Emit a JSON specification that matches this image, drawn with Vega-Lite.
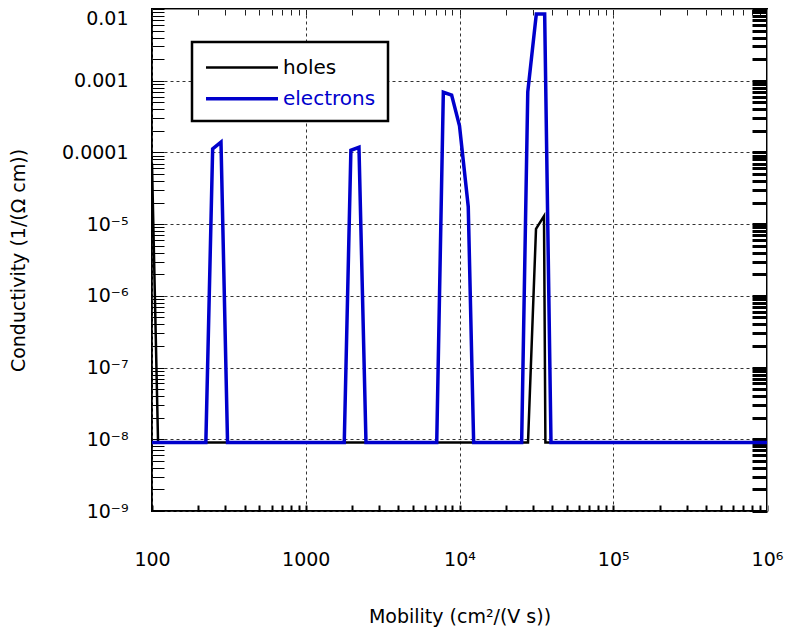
{
  "$schema": "https://vega.github.io/schema/vega-lite/v6.json",
  "width": 615,
  "height": 502,
  "autosize": {"type": "none"},
  "padding": {"left": 152, "top": 9, "right": 19, "bottom": 126},
  "background": "white",
  "config": {
    "view": {"stroke": "black", "strokeWidth": 2},
    "font": "DejaVu Sans"
  },
  "data": {
    "values": [
      {"series": "holes", "mu": 100, "sigma": 7e-5},
      {"series": "holes", "mu": 109.5, "sigma": 9e-9},
      {"series": "holes", "mu": 27900, "sigma": 9e-9},
      {"series": "holes", "mu": 31450, "sigma": 8.6e-6},
      {"series": "holes", "mu": 35450, "sigma": 1.3e-5},
      {"series": "holes", "mu": 36200, "sigma": 9e-9},
      {"series": "holes", "mu": 1000000, "sigma": 9e-9},
      {"series": "electrons", "mu": 100, "sigma": 9e-9},
      {"series": "electrons", "mu": 224, "sigma": 9e-9},
      {"series": "electrons", "mu": 248, "sigma": 1.12e-4},
      {"series": "electrons", "mu": 281, "sigma": 1.39e-4},
      {"series": "electrons", "mu": 310, "sigma": 9e-9},
      {"series": "electrons", "mu": 1780, "sigma": 9e-9},
      {"series": "electrons", "mu": 1966, "sigma": 1.07e-4},
      {"series": "electrons", "mu": 2219, "sigma": 1.18e-4},
      {"series": "electrons", "mu": 2465, "sigma": 9e-9},
      {"series": "electrons", "mu": 7110, "sigma": 9e-9},
      {"series": "electrons", "mu": 7850, "sigma": 6.9e-4},
      {"series": "electrons", "mu": 8890, "sigma": 6.3e-4},
      {"series": "electrons", "mu": 10000, "sigma": 2.35e-4},
      {"series": "electrons", "mu": 11400, "sigma": 1.75e-5},
      {"series": "electrons", "mu": 12360, "sigma": 9e-9},
      {"series": "electrons", "mu": 25360, "sigma": 9e-9},
      {"series": "electrons", "mu": 27800, "sigma": 7.0e-4},
      {"series": "electrons", "mu": 31600, "sigma": 8.55e-3},
      {"series": "electrons", "mu": 35800, "sigma": 8.55e-3},
      {"series": "electrons", "mu": 39360, "sigma": 9e-9},
      {"series": "electrons", "mu": 1000000, "sigma": 9e-9}
    ]
  },
  "resolve": {"axis": {"x": "independent", "y": "independent"}},
  "layer": [
    {
      "mark": {"type": "line", "clip": true, "strokeJoin": "miter"},
      "encoding": {
        "x": {
          "field": "mu", "type": "quantitative",
          "scale": {"type": "log", "domain": [100, 1000000], "nice": false},
          "axis": {
            "orient": "bottom",
            "values": [100,200,300,400,500,600,700,800,900,1000,2000,3000,4000,5000,6000,7000,8000,9000,10000,20000,30000,40000,50000,60000,70000,80000,90000,100000,200000,300000,400000,500000,600000,700000,800000,900000,1000000],
            "grid": true, "gridDash": [3, 3], "gridColor": "#333", "gridWidth": 1,
            "gridOpacity": {"condition": {"test": "abs(log(datum.value)/LN10 - round(log(datum.value)/LN10)) < 0.01", "value": 1}, "value": 0},
            "ticks": true, "tickSize": -6, "tickColor": "black", "tickWidth": 2, "domain": false,
            "labelExpr": "abs(log(datum.value)/LN10 - round(log(datum.value)/LN10)) > 0.01 ? '' : datum.value < 500 ? '100' : datum.value < 5000 ? '1000' : datum.value < 50000 ? '10⁴' : datum.value < 500000 ? '10⁵' : '10⁶'",
            "labelFontSize": 19, "labelPadding": 45, "labelFlush": false, "labelOverlap": false, "labelColor": "black", "labelFont": "DejaVu Sans",
            "title": "Mobility (cm²/(V s))", "titleFontSize": 19, "titleFontWeight": "normal", "titlePadding": 38, "titleColor": "black", "titleFont": "DejaVu Sans"
          }
        },
        "y": {
          "field": "sigma", "type": "quantitative",
          "scale": {"type": "log", "domain": [1e-9, 0.01], "nice": false},
          "axis": {
            "orient": "left",
            "values": [1e-9,2e-9,3e-9,4e-9,5e-9,6e-9,7e-9,8e-9,9e-9,1e-8,2e-8,3e-8,4e-8,5e-8,6e-8,7e-8,8e-8,9e-8,1e-7,2e-7,3e-7,4e-7,5e-7,6e-7,7e-7,8e-7,9e-7,1e-6,2e-6,3e-6,4e-6,5e-6,6e-6,7e-6,8e-6,9e-6,1e-5,2e-5,3e-5,4e-5,5e-5,6e-5,7e-5,8e-5,9e-5,1e-4,2e-4,3e-4,4e-4,5e-4,6e-4,7e-4,8e-4,9e-4,1e-3,2e-3,3e-3,4e-3,5e-3,6e-3,7e-3,8e-3,9e-3,1e-2],
            "grid": true, "gridDash": [3, 3], "gridColor": "#333", "gridWidth": 1,
            "gridOpacity": {"condition": {"test": "abs(log(datum.value)/LN10 - round(log(datum.value)/LN10)) < 0.01", "value": 1}, "value": 0},
            "ticks": true, "tickSize": -12, "tickColor": "black", "tickWidth": 1, "domain": false,
            "labelExpr": "abs(log(datum.value)/LN10 - round(log(datum.value)/LN10)) > 0.01 ? '' : round(log(datum.value)/LN10) == -2 ? '0.01' : round(log(datum.value)/LN10) == -3 ? '0.001' : round(log(datum.value)/LN10) == -4 ? '0.0001' : round(log(datum.value)/LN10) == -5 ? '10⁻⁵' : round(log(datum.value)/LN10) == -6 ? '10⁻⁶' : round(log(datum.value)/LN10) == -7 ? '10⁻⁷' : round(log(datum.value)/LN10) == -8 ? '10⁻⁸' : '10⁻⁹'",
            "labelBaseline": {"condition": {"test": "datum.value > 0.0095", "value": "top"}, "value": "middle"},
            "labelFontSize": 19, "labelPadding": 36, "labelOverlap": false, "labelFlush": false, "labelColor": "black", "labelFont": "DejaVu Sans",
            "title": "Conductivity (1/(Ω cm))", "titleFontSize": 19, "titleFontWeight": "normal", "titlePadding": 33, "titleColor": "black", "titleFont": "DejaVu Sans"
          }
        },
        "color": {
          "field": "series", "type": "nominal",
          "scale": {"domain": ["holes", "electrons"], "range": ["black", "#0000cc"]},
          "legend": {
            "title": null,
            "orient": "none", "legendX": 40, "legendY": 33,
            "symbolType": "M-1,0H5", "symbolSize": 576,
            "labelFontSize": 20, "labelFont": "DejaVu Sans", "labelOffset": 51,
            "rowPadding": 6.7, "padding": 12,
            "strokeColor": "black", "fillColor": "white",
            "encode": {
              "legend": {"update": {"strokeWidth": {"value": 2.5}}},
              "labels": {"update": {"fill": {"signal": "datum.value === 'electrons' ? '#0000cc' : 'black'"}}}
            }
          }
        },
        "strokeWidth": {
          "field": "series", "type": "nominal",
          "scale": {"domain": ["holes", "electrons"], "range": [2.5, 3.5]},
          "legend": null
        }
      }
    },
    {
      "mark": {"type": "line", "strokeOpacity": 0},
      "encoding": {
        "x": {"field": "mu", "type": "quantitative", "axis": {
          "orient": "top", "values": [200,300,400,500,600,700,800,900,1000,2000,3000,4000,5000,6000,7000,8000,9000,10000,20000,30000,40000,50000,60000,70000,80000,90000,100000,200000,300000,400000,500000,600000,700000,800000,900000],
          "labelOpacity": 0, "grid": false, "tickSize": -6, "tickColor": "#222", "tickWidth": 1, "title": null}},
        "y": {"field": "sigma", "type": "quantitative", "axis": {
          "orient": "right", "labelOpacity": 0, "tickSize": -15, "tickColor": "black", "tickWidth": 3, "title": null}}
      }
    }
  ]
}
